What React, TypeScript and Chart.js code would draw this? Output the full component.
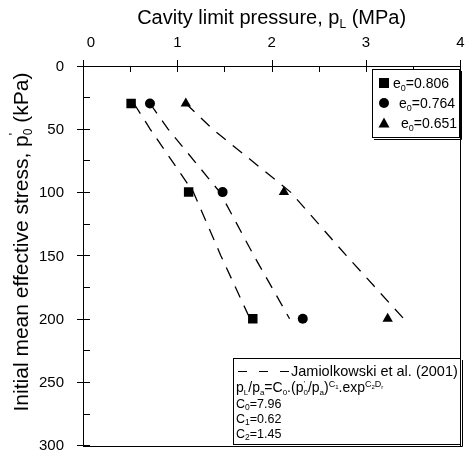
import React, { useEffect, useRef } from "react";
import { Chart, registerables } from "chart.js";

Chart.register(...registerables);

const FONT = '"Liberation Sans", Arial, sans-serif';

// Measured data (initial mean effective stress in kPa, limit pressure in MPa)
const stressLevels = [30, 100, 200];
const pL_e0806 = [0.51, 1.12, 1.8];
const pL_e0764 = [0.71, 1.48, 2.33];
const pL_e0651 = [1.09, 2.13, 3.23];

// Jamiolkowski et al. (2001) prediction curves
const fitStress = [30, 50, 100, 150, 200];
const fit_e0806 = [0.54, 0.71, 1.17, 1.46, 1.77];
const fit_e0764 = [0.71, 0.9, 1.45, 1.81, 2.19];
const fit_e0651 = [1.09, 1.37, 2.2, 2.79, 3.4];

const legendLabels = ["0.806", "0.764", "0.651"];
const xTicks = [0, 1, 2, 3, 4];
const yTicks = [0, 50, 100, 150, 200, 250, 300];

type Part = { t: string; s: number; dy?: number; stack?: boolean };

function drawRich(ctx: CanvasRenderingContext2D, x: number, y: number, parts: Part[], measureOnly = false) {
  let cx = x;
  let pendingStack = 0;
  for (const p of parts) {
    ctx.font = `${p.s}px ${FONT}`;
    const w = ctx.measureText(p.t).width;
    if (!measureOnly) ctx.fillText(p.t, cx, y + (p.dy || 0));
    if (p.stack) {
      pendingStack = Math.max(pendingStack, w);
    } else {
      cx += Math.max(w, pendingStack);
      pendingStack = 0;
    }
  }
  return cx - x;
}

const overlay = {
  id: "overlay",
  afterDraw(chart: any) {
    const ctx: CanvasRenderingContext2D = chart.ctx;
    const { left, right, top, bottom } = chart.chartArea;
    const xs = chart.scales.x;
    const ys = chart.scales.y;
    ctx.save();
    ctx.strokeStyle = "#000";
    ctx.fillStyle = "#000";
    ctx.lineWidth = 1;
    const L = Math.round(left);
    const T = Math.round(top);
    // frame
    ctx.strokeRect(L + 0.5, T + 0.5, Math.round(right - left), Math.round(bottom - top));
    // x ticks on top
    ctx.beginPath();
    for (let v = 0; v <= 4.001; v += 0.5) {
      const px = Math.round(xs.getPixelForValue(v)) + 0.5;
      const major = Math.abs(v - Math.round(v)) < 1e-6;
      ctx.moveTo(px, T + (major ? -6 : 0));
      ctx.lineTo(px, T + 6);
    }
    // y ticks on left
    for (let v = 0; v <= 300; v += 25) {
      const py = Math.round(ys.getPixelForValue(v)) + 0.5;
      const major = v % 50 === 0;
      ctx.moveTo(L + (major ? -6 : 0), py);
      ctx.lineTo(L + 7, py);
    }
    ctx.stroke();

    // tick labels
    ctx.font = `15px ${FONT}`;
    ctx.textAlign = "center";
    ctx.textBaseline = "middle";
    xTicks.forEach((v) => ctx.fillText(String(v), xs.getPixelForValue(v) + (v === 0 ? 8 : 0), 43));
    ctx.textAlign = "right";
    yTicks.forEach((v) => ctx.fillText(String(v), L - 19, ys.getPixelForValue(v) + 1));

    ctx.textBaseline = "alphabetic";
    ctx.textAlign = "left";
    // x title
    const xt: Part[] = [
      { t: "Cavity limit pressure, p", s: 20 },
      { t: "L", s: 12, dy: 4 },
      { t: " (MPa)", s: 20 },
    ];
    const wx = drawRich(ctx, 0, 0, xt, true);
    drawRich(ctx, (left + right) / 2 - wx / 2, 24, xt);

    // y title
    const yt: Part[] = [
      { t: "Initial mean effective stress, p", s: 21 },
      { t: "'", s: 12, dy: -10, stack: true },
      { t: "0", s: 12, dy: 4 },
      { t: " (kPa)", s: 21 },
    ];
    const wy = drawRich(ctx, 0, 0, yt, true);
    ctx.save();
    ctx.translate(28, 242 + wy / 2);
    ctx.rotate(-Math.PI / 2);
    drawRich(ctx, 0, 0, yt);
    ctx.restore();

    const drawBox = (x1: number, y1: number, x2: number, y2: number) => {
      ctx.fillStyle = "#fff";
      ctx.fillRect(x1, y1, x2 - x1, y2 - y1);
      ctx.fillStyle = "#000";
      ctx.lineWidth = 1;
      ctx.strokeRect(x1 + 0.5, y1 + 0.5, x2 - x1, y2 - y1);
      ctx.beginPath();
      ctx.moveTo(x2 + 2.5, y1 + 2);
      ctx.lineTo(x2 + 2.5, y2 + 2.5);
      ctx.lineTo(x1 + 2, y2 + 2.5);
      ctx.stroke();
    };

    // legend 1
    drawBox(372, 69, 459, 137);
    const rowsY = [83, 103, 123];
    const textX = [393, 399, 401];
    ctx.fillRect(379, rowsY[0] - 5, 10, 10);
    ctx.beginPath();
    ctx.arc(384, rowsY[1], 5, 0, Math.PI * 2);
    ctx.fill();
    ctx.beginPath();
    ctx.moveTo(384, rowsY[2] - 5.5);
    ctx.lineTo(389.5, rowsY[2] + 4.5);
    ctx.lineTo(378.5, rowsY[2] + 4.5);
    ctx.closePath();
    ctx.fill();
    legendLabels.forEach((lab, i) => {
      drawRich(ctx, textX[i], rowsY[i] + 5, [
        { t: "e", s: 14 },
        { t: "0", s: 9, dy: 3 },
        { t: "=" + lab, s: 14 },
      ]);
    });

    // legend 2
    drawBox(233, 358, 460, 444);
    ctx.save();
    ctx.lineWidth = 1.2;
    ctx.setLineDash([9, 12]);
    ctx.beginPath();
    ctx.moveTo(238, 371.5);
    ctx.lineTo(290, 371.5);
    ctx.stroke();
    ctx.restore();
    drawRich(ctx, 291, 376, [{ t: "Jamiolkowski et al. (2001)", s: 14.5 }]);
    drawRich(ctx, 236, 392, [
      { t: "p", s: 14 },
      { t: "L", s: 8, dy: 3 },
      { t: "/p", s: 14 },
      { t: "a", s: 8, dy: 3 },
      { t: "=C", s: 14 },
      { t: "0", s: 8, dy: 3 },
      { t: ".(p", s: 14 },
      { t: "'", s: 8, dy: -6, stack: true },
      { t: "0", s: 8, dy: 3 },
      { t: "/p", s: 14 },
      { t: "a", s: 8, dy: 3 },
      { t: ")", s: 14 },
      { t: "C", s: 9, dy: -5 },
      { t: "1", s: 6, dy: -3 },
      { t: ".exp", s: 14 },
      { t: "C", s: 9, dy: -5 },
      { t: "2", s: 6, dy: -3 },
      { t: "D", s: 9, dy: -5 },
      { t: "r", s: 6, dy: -3 },
    ]);
    const cRows = [
      ["0", "7.96"],
      ["1", "0.62"],
      ["2", "1.45"],
    ];
    cRows.forEach((r, i) => {
      drawRich(ctx, 236, 408 + i * 15, [
        { t: "C", s: 12.5 },
        { t: r[0], s: 8.5, dy: 2 },
        { t: "=" + r[1], s: 12.5 },
      ]);
    });
    ctx.restore();
  },
};

export default function App() {
  const ref = useRef<HTMLCanvasElement | null>(null);
  useEffect(() => {
    if (!ref.current) return;
    const toPts = (xsArr: number[], ysArr: number[]) => xsArr.map((v, i) => ({ x: v, y: ysArr[i] }));
    const lineDs = (vals: number[]) => ({
      data: toPts(vals, fitStress),
      showLine: true,
      borderColor: "#000",
      borderWidth: 1.3,
      borderDash: [12, 9],
      pointRadius: 0,
      fill: false,
    });
    const chart = new Chart(ref.current, {
      type: "scatter",
      data: {
        datasets: [
          lineDs(fit_e0806),
          lineDs(fit_e0764),
          lineDs(fit_e0651),
          {
            data: toPts(pL_e0806, stressLevels),
            pointStyle: "rect",
            pointRadius: 6.7,
            backgroundColor: "#000",
            borderColor: "#000",
            borderWidth: 0,
          },
          {
            data: toPts(pL_e0764, stressLevels),
            pointStyle: "circle",
            pointRadius: 5,
            backgroundColor: "#000",
            borderColor: "#000",
            borderWidth: 0,
          },
          {
            data: toPts(pL_e0651, stressLevels),
            pointStyle: "triangle",
            pointRadius: 6,
            backgroundColor: "#000",
            borderColor: "#000",
            borderWidth: 0,
          },
        ] as any,
      },
      options: {
        responsive: false,
        animation: false,
        layout: { padding: { left: 0, right: 4, top: 0, bottom: 6.5 } },
        plugins: { legend: { display: false }, tooltip: { enabled: false } },
        scales: {
          x: {
            type: "linear",
            position: "top",
            min: 0,
            max: 4,
            afterBuildTicks: (s: any) => {
              s.ticks = xTicks.map((v) => ({ value: v }));
            },
            ticks: { display: false },
            grid: { display: false, drawTicks: false },
            border: { display: false },
            afterFit: (s: any) => {
              s.height = 65.5;
            },
          },
          y: {
            type: "linear",
            reverse: true,
            min: 0,
            max: 300,
            afterBuildTicks: (s: any) => {
              s.ticks = yTicks.map((v) => ({ value: v }));
            },
            ticks: { display: false },
            grid: { display: false, drawTicks: false },
            border: { display: false },
            afterFit: (s: any) => {
              s.width = 83;
            },
          },
        },
      } as any,
      plugins: [overlay],
    });
    return () => chart.destroy();
  }, []);
  return (
    <div style={{ position: "absolute", left: 0, top: 0, width: 467, height: 452, background: "#fff" }}>
      <canvas ref={ref} width={467} height={452} />
    </div>
  );
}
